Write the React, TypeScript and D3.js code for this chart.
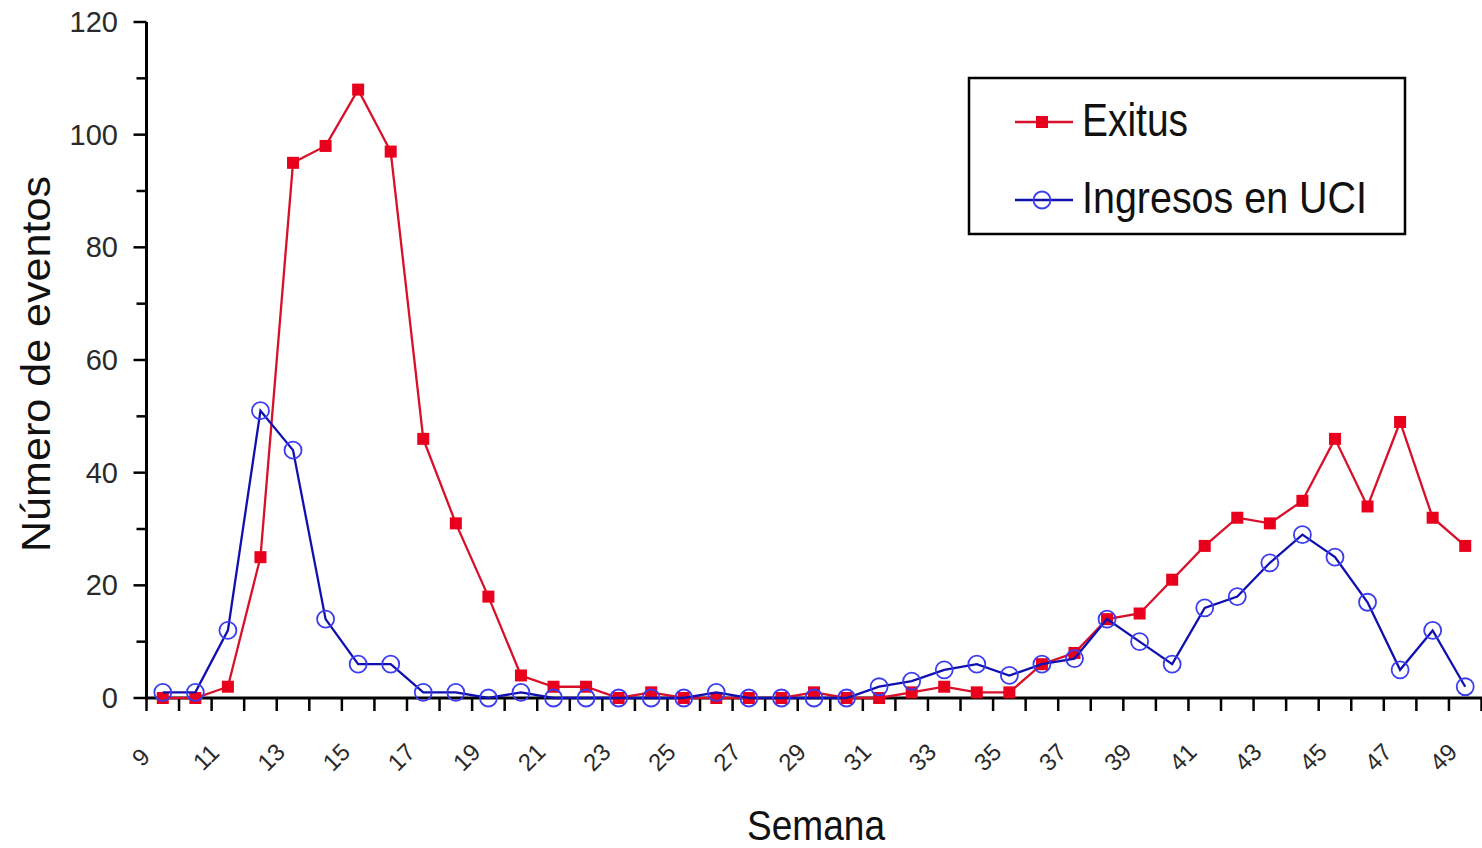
import React from "react";
import * as d3 from "d3";

const weeks: number[] = d3.range(9, 50);
const exitus: number[] = [0, 0, 2, 25, 95, 98, 108, 97, 46, 31, 18, 4, 2, 2, 0, 1, 0, 0, 0, 0, 1, 0, 0, 1, 2, 1, 1, 6, 8, 14, 15, 21, 27, 32, 31, 35, 46, 34, 49, 32, 27];
const ingresos: number[] = [1, 1, 12, 51, 44, 14, 6, 6, 1, 1, 0, 1, 0, 0, 0, 0, 0, 1, 0, 0, 0, 0, 2, 3, 5, 6, 4, 6, 7, 14, 10, 6, 16, 18, 24, 29, 25, 17, 5, 12, 2];
const xTickLabels: number[] = weeks.filter((w) => w % 2 === 1);
const yTicks: number[] = d3.range(0, 121, 10);

const W = 1482;
const H = 848;
const LEFT = 146.5;
const RIGHT = 1481.5;
const TOP = 22;
const BOTTOM = 698;

const RED_LINE = "#d8102a";
const RED_FILL = "#e8001c";
const BLUE_LINE = "#1010b0";
const BLUE_MARK = "#3c3cf0";

export default function App() {
  const x = d3.scaleBand<string>().domain(weeks.map(String)).range([LEFT, RIGHT]).padding(0);
  const bw = x.bandwidth();
  const cx = (w: number) => (x(String(w)) as number) + bw / 2;
  const y = d3.scaleLinear().domain([0, 120]).range([BOTTOM, TOP]);

  const line = d3
    .line<number>()
    .x((_, i) => cx(weeks[i]))
    .y((d) => y(d));

  const boundaries = [...weeks.map((w) => x(String(w)) as number), RIGHT];

  return (
    <svg
      width={W}
      height={H}
      style={{ position: "absolute", left: 0, top: 0, background: "#fff" }}
      fontFamily="'Liberation Sans', Arial, sans-serif"
    >
      <rect x={0} y={0} width={W} height={H} fill="#fff" />

      {/* Y axis */}
      <line x1={LEFT} x2={LEFT} y1={TOP} y2={BOTTOM + 1} stroke="#000" strokeWidth={3} />
      {yTicks.map((t) => (
        <g key={"yt" + t}>
          <line
            x1={t % 20 === 0 ? LEFT - 13 : LEFT - 10}
            x2={LEFT}
            y1={y(t)}
            y2={y(t)}
            stroke="#000"
            strokeWidth={2.5}
          />
          {t % 20 === 0 && (
            <text x={118} y={y(t)} textAnchor="end" dominantBaseline="central" fontSize={29} fill="#2a2a2a">
              {t}
            </text>
          )}
        </g>
      ))}

      {/* X axis */}
      <line x1={LEFT - 1.5} x2={W} y1={BOTTOM} y2={BOTTOM} stroke="#000" strokeWidth={3} />
      {boundaries.map((b, i) => (
        <line key={"xt" + i} x1={b} x2={b} y1={BOTTOM} y2={BOTTOM + 13} stroke="#000" strokeWidth={2.5} />
      ))}
      {xTickLabels.map((w) => (
        <text
          key={"xl" + w}
          transform={`translate(${cx(w) - 22},757) rotate(-45)`}
          textAnchor="middle"
          dominantBaseline="central"
          fontSize={24}
          fill="#2a2a2a"
        >
          {w}
        </text>
      ))}

      {/* Axis titles */}
      <text
        transform="translate(50,364) rotate(-90)"
        textAnchor="middle"
        fontSize={40}
        fill="#111"
        textLength={376}
        lengthAdjust="spacingAndGlyphs"
      >
        Número de eventos
      </text>
      <text x={816} y={840} textAnchor="middle" fontSize={42} fill="#111" textLength={138} lengthAdjust="spacingAndGlyphs">
        Semana
      </text>

      {/* Exitus series */}
      <path d={line(exitus) || ""} fill="none" stroke={RED_LINE} strokeWidth={2.3} />
      {exitus.map((v, i) => (
        <rect key={"ex" + i} x={cx(weeks[i]) - 6} y={y(v) - 6} width={12} height={12} fill={RED_FILL} />
      ))}

      {/* Ingresos series */}
      <path d={line(ingresos) || ""} fill="none" stroke={BLUE_LINE} strokeWidth={2.3} />
      {ingresos.map((v, i) => (
        <circle key={"in" + i} cx={cx(weeks[i])} cy={y(v)} r={8.5} fill="none" stroke={BLUE_MARK} strokeWidth={1.8} />
      ))}

      {/* Legend */}
      <rect x={969} y={78} width={436} height={156} fill="#fff" stroke="#000" strokeWidth={2.5} />
      <line x1={1015} x2={1073} y1={122} y2={122} stroke={RED_LINE} strokeWidth={2.3} />
      <rect x={1042 - 6} y={122 - 6} width={12} height={12} fill={RED_FILL} />
      <text x={1082} y={136} fontSize={46} fill="#111" textLength={106} lengthAdjust="spacingAndGlyphs">
        Exitus
      </text>
      <line x1={1015} x2={1073} y1={200} y2={200} stroke={BLUE_LINE} strokeWidth={2.3} />
      <circle cx={1042} cy={200} r={8.5} fill="none" stroke={BLUE_MARK} strokeWidth={1.8} />
      <text x={1082} y={213} fontSize={44} fill="#111" textLength={285} lengthAdjust="spacingAndGlyphs">
        Ingresos en UCI
      </text>
    </svg>
  );
}
